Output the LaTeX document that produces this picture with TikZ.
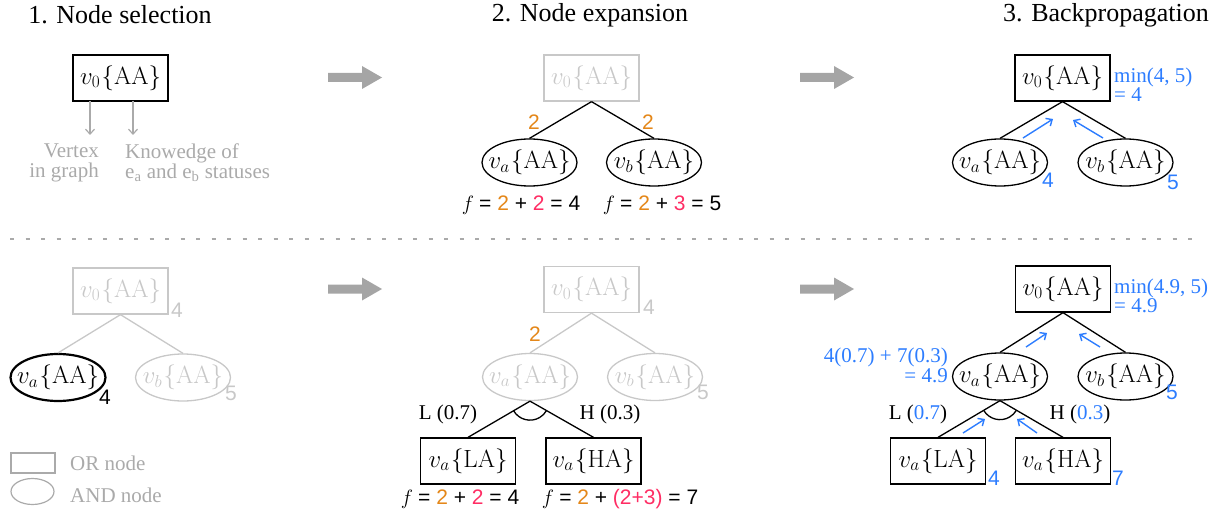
\documentclass[tikz,border=0pt]{standalone}
\usepackage[no-math]{fontspec}
\setmainfont{Liberation Serif}
\newfontfamily\sansf{Liberation Sans}
\usetikzlibrary{shapes.geometric,arrows.meta,calc}
\definecolor{ltgray}{RGB}{200,200,200}
\definecolor{txgray}{RGB}{170,170,170}
\definecolor{argray}{RGB}{165,165,165}
\definecolor{orng}{RGB}{228,135,25}
\definecolor{pnk}{RGB}{255,45,100}
\definecolor{blu}{RGB}{45,125,255}
\newcommand{\nd}[2]{$v_{#1}\mkern1mu\{\mathrm{#2}\}$}
\newcommand{\barrow}[2]{\fill[argray] (#1,#2-4.5) -- (#1+34,#2-4.5) -- (#1+34,#2-11.5) -- (#1+54,#2) -- (#1+34,#2+11.5) -- (#1+34,#2+4.5) -- (#1,#2+4.5) -- cycle;}
\newcommand{\andarc}[3]{\draw[edge] let \p1=($(#2.north)-(#1.south)$), \p2=($(#3.north)-(#1.south)$), \n1={atan2(\y1,\x1)}, \n2={atan2(\y2,\x2)} in ($(#1.south)!19pt!(#2.north)$) arc[start angle=\n1, end angle=\n2, radius=19pt];}
\begin{document}
\begin{tikzpicture}[x=1pt,y=-1pt,
 ornode/.style={draw,rectangle,minimum width=95pt,minimum height=46pt,inner sep=0pt,line width=1.3pt,font=\fontsize{24}{27}\selectfont},
 andnode/.style={draw,ellipse,minimum width=95pt,minimum height=47pt,inner xsep=-8pt,inner ysep=0pt,line width=1.3pt,font=\fontsize{24}{27}\selectfont},
 faded/.style={draw=ltgray,text=ltgray},
 edge/.style={line width=1.3pt},
 fedge/.style={line width=1.3pt,draw=ltgray},
 lbl/.style={font=\fontsize{21}{20}\selectfont,inner sep=0pt},
 num/.style={font=\sansf\fontsize{21}{20}\selectfont,inner sep=0pt},
 ttl/.style={font=\fontsize{26}{28}\selectfont,inner sep=0pt},
 uparrow/.style={draw=blu,line width=1.4pt,-{Straight Barb[length=5pt,width=9pt]}},
 grayarrow/.style={draw=txgray,line width=1.2pt,-{Straight Barb[length=5pt,width=9pt]}},
 ]
\useasboundingbox (0,0) rectangle (1222,513);
% titles
\node[ttl] (t1) at (120,15) {1. Node selection};
\node[ttl] (t2) at (590,15) {2. Node expansion};
\node[ttl] (t3) at (1106,15) {3. Backpropagation};
% block arrows
\barrow{328}{77.5}
\barrow{800}{77.5}
\barrow{328}{289}
\barrow{800}{289}
% separator
\draw[txgray,line width=2pt,dash pattern=on 4pt off 11.5pt] (10,239) -- (1200,239);

% ---- panel 1 top
\node[ornode] (s0) at (120.5,78) {\nd{0}{AA}};
\coordinate (a1s) at (90,101); \coordinate (a1e) at (90,135);
\coordinate (a2s) at (133,101); \coordinate (a2e) at (133,135);
\draw[grayarrow] (a1s) -- (a1e);
\draw[grayarrow] (a2s) -- (a2e);
\node[lbl,text=txgray,align=right,anchor=east] (vt) at (99,163) {Vertex\\in graph};
\node[lbl,text=txgray,align=left,anchor=west] (kn) at (125,163) {Knowedge of\\e\textsubscript{a} and e\textsubscript{b} statuses};

% ---- panel 2 top
\node[ornode,faded] (e0) at (591.5,78) {\nd{0}{AA}};
\node[andnode] (ea) at (529.5,162.5) {\nd{a}{AA}};
\node[andnode] (eb) at (654,162.5) {\nd{b}{AA}};
\draw[edge] (e0.south) -- (ea.north);
\draw[edge] (e0.south) -- (eb.north);
\node[num,text=orng] (e2a) at (534,122) {2};
\node[num,text=orng] (e2b) at (648,122) {2};
\node[lbl] (efa) at (521,205) {$f$ {\sansf = \textcolor{orng}{2} + \textcolor{pnk}{2} = 4}};
\node[lbl] (efb) at (662,205) {$f$ {\sansf = \textcolor{orng}{2} + \textcolor{pnk}{3} = 5}};

% ---- panel 3 top
\node[ornode] (b0) at (1062.5,78) {\nd{0}{AA}};
\node[andnode] (ba) at (1000,162.5) {\nd{a}{AA}};
\node[andnode] (bb) at (1125.5,162.5) {\nd{b}{AA}};
\draw[edge] (b0.south) -- (ba.north);
\draw[edge] (b0.south) -- (bb.north);
\node[lbl,text=blu,align=left,anchor=west,font=\fontsize{21}{17}\selectfont] (bmin) at (1114,85) {min(4, 5)\\= 4};
\node[num,text=blu] (ba4) at (1048,180) {4};
\node[num,text=blu] (bb5) at (1173,182) {5};
\coordinate (u1s) at (1023,138); \coordinate (u1e) at (1053,119);
\coordinate (u2s) at (1103,138); \coordinate (u2e) at (1073,120);
\draw[uparrow] (u1s) -- (u1e);
\draw[uparrow] (u2s) -- (u2e);

% ---- panel 1 bottom
\node[ornode,faded] (p0) at (120.5,291) {\nd{0}{AA}};
\node[andnode,line width=2.2pt] (pa) at (58,377.5) {\nd{a}{AA}};
\node[andnode,faded] (pb) at (183,377.5) {\nd{b}{AA}};
\draw[fedge] (p0.south) -- (pa.north);
\draw[fedge] (p0.south) -- (pb.north);
\node[num,text=ltgray] (p04) at (177,310) {4};
\node[num] (pa4) at (105,397) {4};
\node[num,text=ltgray] (pb5) at (231,393) {5};
% legend
\node[draw=txgray,line width=1.2pt,minimum width=44pt,minimum height=20pt,inner sep=0pt] (lgor) at (33,463) {};
\node[draw=txgray,line width=1.2pt,ellipse,minimum width=43pt,minimum height=26pt,inner sep=0pt] (lgand) at (32.5,491.5) {};
\node[lbl,text=txgray,anchor=west] (lgort) at (70,463) {OR node};
\node[lbl,text=txgray,anchor=west] (lgandt) at (70,495) {AND node};

% ---- panel 2 bottom
\node[ornode,faded] (q0) at (591.5,289.5) {\nd{0}{AA}};
\node[andnode,faded] (qa) at (530,377) {\nd{a}{AA}};
\node[andnode,faded] (qb) at (655,377) {\nd{b}{AA}};
\node[ornode] (ql) at (468,461) {\nd{a}{LA}};
\node[ornode] (qh) at (593.5,461) {\nd{a}{HA}};
\draw[fedge] (q0.south) -- (qa.north);
\draw[fedge] (q0.south) -- (qb.north);
\draw[edge] (qa.south) -- (ql.north);
\draw[edge] (qa.south) -- (qh.north);
\andarc{qa}{ql}{qh}
\node[num,text=orng] (q2) at (535,334) {2};
\node[num,text=ltgray] (q04) at (649,307) {4};
\node[num,text=ltgray] (qb5) at (703,392) {5};
\node[lbl] (qL) at (448,414) {L (0.7)};
\node[lbl] (qH) at (610,414) {H (0.3)};
\node[lbl] (qfl) at (460,499) {$f$ {\sansf = \textcolor{orng}{2} + \textcolor{pnk}{2} = 4}};
\node[lbl] (qfh) at (620,499) {$f$ {\sansf = \textcolor{orng}{2} + \textcolor{pnk}{(2+3)} = 7}};

% ---- panel 3 bottom
\node[ornode] (r0) at (1063,289) {\nd{0}{AA}};
\node[andnode] (ra) at (1000,376.5) {\nd{a}{AA}};
\node[andnode] (rb) at (1125.5,376.5) {\nd{b}{AA}};
\node[ornode] (rl) at (938,461) {\nd{a}{LA}};
\node[ornode] (rh) at (1063,461) {\nd{a}{HA}};
\draw[edge] (r0.south) -- (ra.north);
\draw[edge] (r0.south) -- (rb.north);
\draw[edge] (ra.south) -- (rl.north);
\draw[edge] (ra.south) -- (rh.north);
\andarc{ra}{rl}{rh}
\node[lbl,text=blu,align=left,anchor=west,font=\fontsize{21}{18}\selectfont] (rmin) at (1114,296) {min(4.9, 5)\\= 4.9};
\node[lbl,text=blu,align=right,anchor=east] (rsum) at (948,365) {4(0.7) + 7(0.3)\\= 4.9};
\node[lbl] (rL) at (918,414) {L (\textcolor{blu}{0.7})};
\node[lbl] (rH) at (1080,414) {H (\textcolor{blu}{0.3})};
\node[num,text=blu] (rb5) at (1172,392) {5};
\node[num,text=blu] (rl4) at (994,478) {4};
\node[num,text=blu] (rh7) at (1118,478) {7};
\coordinate (w1s) at (1026,347); \coordinate (w1e) at (1047,333);
\coordinate (w2s) at (1100,347); \coordinate (w2e) at (1079,334);
\coordinate (w3s) at (963,433); \coordinate (w3e) at (985,419);
\coordinate (w4s) at (1037,433); \coordinate (w4e) at (1017,419);
\draw[uparrow] (w1s) -- (w1e);
\draw[uparrow] (w2s) -- (w2e);
\draw[uparrow] (w3s) -- (w3e);
\draw[uparrow] (w4s) -- (w4e);
\end{tikzpicture}
\end{document}
